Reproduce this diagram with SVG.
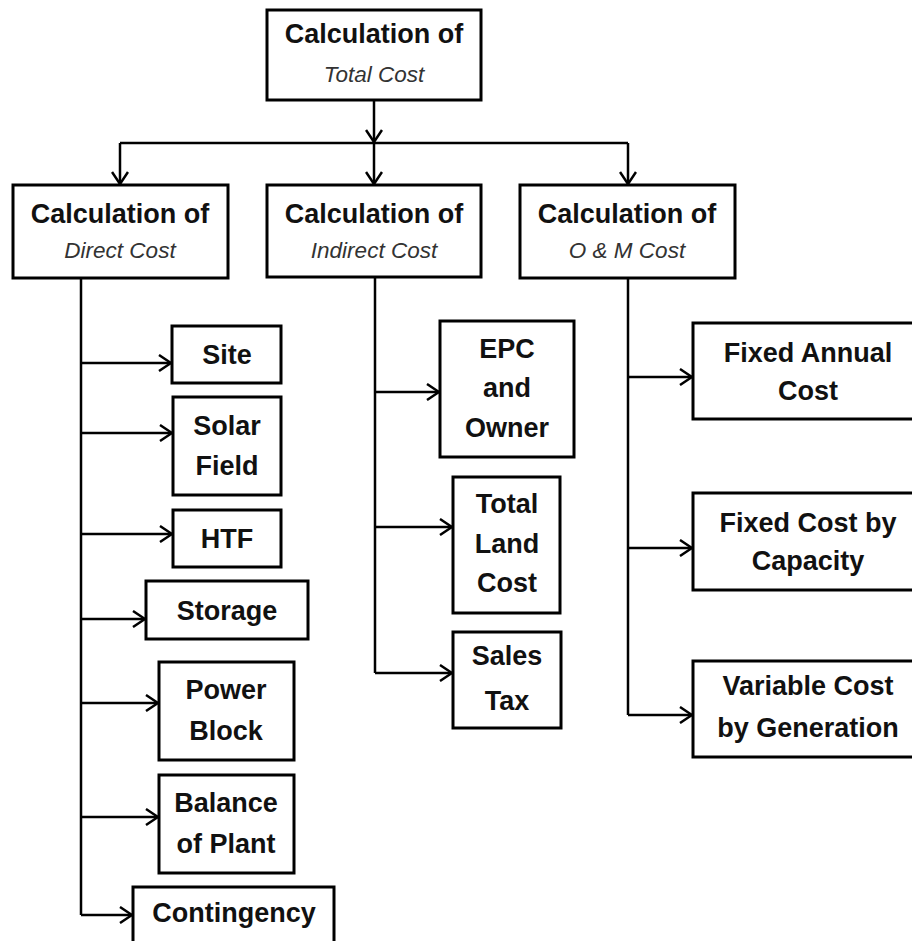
<svg xmlns="http://www.w3.org/2000/svg" width="912" height="941" viewBox="0 0 912 941">
<style>
.box{fill:#fff;stroke:#000;stroke-width:3}
.t{font-family:"Liberation Sans",Arial,sans-serif;font-weight:bold;font-size:27px;fill:#111;text-anchor:middle}
.h{font-family:"Liberation Sans",Arial,sans-serif;font-weight:bold;font-size:27px;fill:#111;text-anchor:middle}
.i{font-family:"Liberation Sans",Arial,sans-serif;font-style:italic;font-size:22.5px;fill:#333;text-anchor:middle}
.c{fill:none;stroke:#000;stroke-width:2.5}
</style>
<defs>
<marker id="arr" markerUnits="userSpaceOnUse" viewBox="0 0 14 18" refX="13" refY="9" markerWidth="14" markerHeight="18" orient="auto">
<path d="M1,1 L13,9 L1,17" fill="none" stroke="#000" stroke-width="2.5"/>
</marker>
</defs>
<rect width="912" height="941" fill="#fff"/>
<g id="connectors">
<path class="c" d="M374,100 V142" marker-end="url(#arr)"/>
<path class="c" d="M120,143 H628"/>
<path class="c" d="M120,143 V184" marker-end="url(#arr)"/>
<path class="c" d="M374,143 V184" marker-end="url(#arr)"/>
<path class="c" d="M628,143 V184" marker-end="url(#arr)"/>
<path class="c" d="M81,278 V915"/>
<path class="c" d="M81,363 H171" marker-end="url(#arr)"/>
<path class="c" d="M81,433 H172" marker-end="url(#arr)"/>
<path class="c" d="M81,534 H172" marker-end="url(#arr)"/>
<path class="c" d="M81,619 H145" marker-end="url(#arr)"/>
<path class="c" d="M81,703 H158" marker-end="url(#arr)"/>
<path class="c" d="M81,817 H158" marker-end="url(#arr)"/>
<path class="c" d="M81,915 H132" marker-end="url(#arr)"/>
<path class="c" d="M375,277 V673"/>
<path class="c" d="M375,392 H439" marker-end="url(#arr)"/>
<path class="c" d="M375,527 H452" marker-end="url(#arr)"/>
<path class="c" d="M375,673 H452" marker-end="url(#arr)"/>
<path class="c" d="M628,278 V715"/>
<path class="c" d="M628,377 H692" marker-end="url(#arr)"/>
<path class="c" d="M628,548 H692" marker-end="url(#arr)"/>
<path class="c" d="M628,715 H692" marker-end="url(#arr)"/>
</g>
<g id="total">
<rect class="box" x="267" y="10" width="214" height="90"/>
<text class="h" x="374" y="43">Calculation of</text>
<text class="i" x="374" y="82">Total Cost</text>
</g>
<g id="direct">
<rect class="box" x="13" y="185" width="215" height="93"/>
<text class="h" x="120" y="223">Calculation of</text>
<text class="i" x="120" y="258">Direct Cost</text>
</g>
<g id="indirect">
<rect class="box" x="267" y="185" width="214" height="92"/>
<text class="h" x="374" y="223">Calculation of</text>
<text class="i" x="374" y="258">Indirect  Cost</text>
</g>
<g id="om">
<rect class="box" x="520" y="185" width="215" height="93"/>
<text class="h" x="627" y="223">Calculation of</text>
<text class="i" x="627" y="258">O &amp; M Cost</text>
</g>
<g id="site">
<rect class="box" x="172" y="326" width="109" height="57"/>
<text class="t" x="227" y="364">Site</text>
</g>
<g id="solar">
<rect class="box" x="173" y="397" width="108" height="98"/>
<text class="t" x="227" y="435">Solar</text>
<text class="t" x="227" y="475">Field</text>
</g>
<g id="htf">
<rect class="box" x="173" y="510" width="108" height="57"/>
<text class="t" x="227" y="548">HTF</text>
</g>
<g id="storage">
<rect class="box" x="146" y="581" width="162" height="58"/>
<text class="t" x="227" y="620">Storage</text>
</g>
<g id="power">
<rect class="box" x="159" y="662" width="135" height="98"/>
<text class="t" x="226" y="699">Power</text>
<text class="t" x="226" y="740">Block</text>
</g>
<g id="balance">
<rect class="box" x="159" y="775" width="135" height="98"/>
<text class="t" x="226" y="812">Balance</text>
<text class="t" x="226" y="853">of Plant</text>
</g>
<g id="contingency">
<rect class="box" x="133" y="887" width="201" height="64"/>
<text class="t" x="234" y="922">Contingency</text>
</g>
<g id="epc">
<rect class="box" x="440" y="321" width="134" height="136"/>
<text class="t" x="507" y="358">EPC</text>
<text class="t" x="507" y="397">and</text>
<text class="t" x="507" y="437">Owner</text>
</g>
<g id="land">
<rect class="box" x="453" y="477" width="107" height="136"/>
<text class="t" x="507" y="513">Total</text>
<text class="t" x="507" y="553">Land</text>
<text class="t" x="507" y="592">Cost</text>
</g>
<g id="sales">
<rect class="box" x="453" y="632" width="108" height="96"/>
<text class="t" x="507" y="665">Sales</text>
<text class="t" x="507" y="710">Tax</text>
</g>
<g id="fixedannual">
<rect class="box" x="693" y="323" width="230" height="96"/>
<text class="t" x="808" y="362">Fixed Annual</text>
<text class="t" x="808" y="400">Cost</text>
</g>
<g id="fixedcap">
<rect class="box" x="693" y="493" width="230" height="97"/>
<text class="t" x="808" y="532">Fixed Cost by</text>
<text class="t" x="808" y="570">Capacity</text>
</g>
<g id="variable">
<rect class="box" x="693" y="661" width="230" height="96"/>
<text class="t" x="808" y="695">Variable Cost</text>
<text class="t" x="808" y="737">by Generation</text>
</g>
</svg>
